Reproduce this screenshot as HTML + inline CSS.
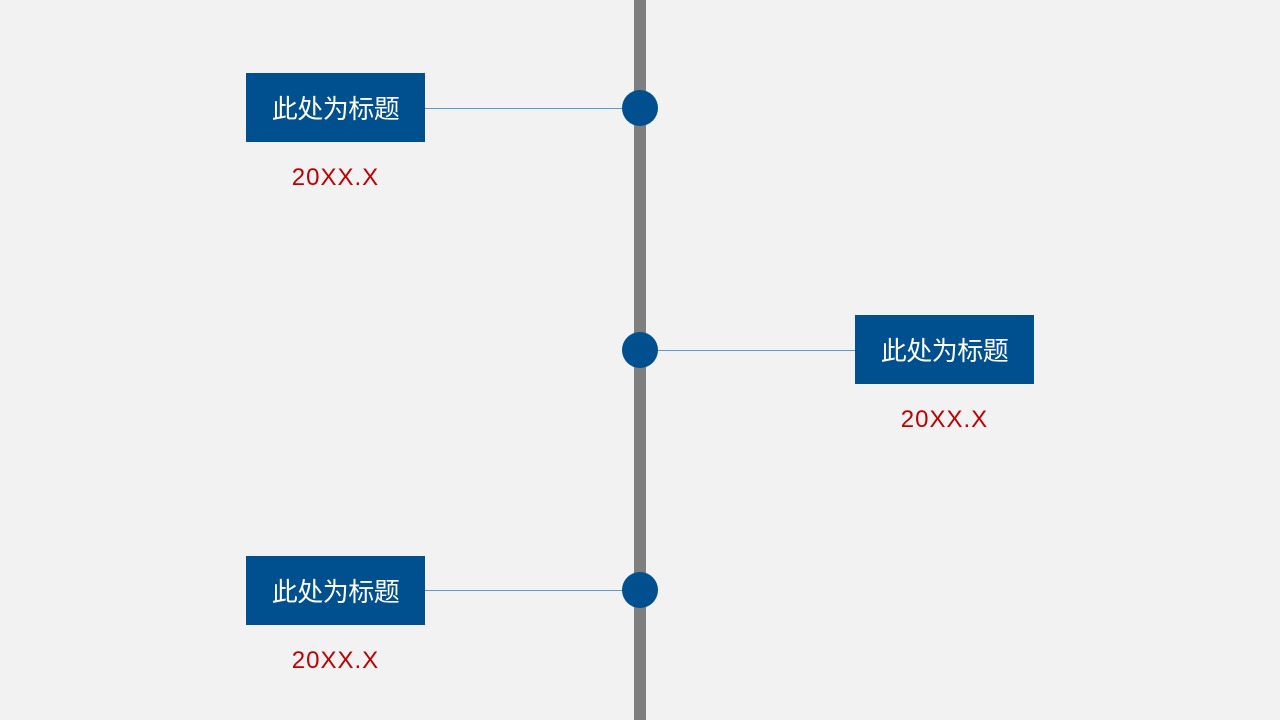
<!DOCTYPE html>
<html><head><meta charset="utf-8"><style>
body{margin:0;width:1280px;height:720px;background:#f2f2f2;position:relative;overflow:hidden;font-family:"Liberation Sans","Noto Sans CJK SC",sans-serif}
.bar{position:absolute;left:634px;top:0;width:12px;height:720px;background:#7f7f7f}
.dot{position:absolute;width:36px;height:36px;border-radius:50%;background:#00508f;left:622px}
.ln{position:absolute;height:1px;background:#5b9bd5}
.box{position:absolute;width:179px;height:69px;background:#00508f;color:#fff;font-size:26px;line-height:73px;text-align:center;letter-spacing:-0.5px}
.dt{position:absolute;width:179px;text-align:center;color:#c00000;font-size:24px;line-height:32px;letter-spacing:1px}
</style></head><body>
<div class="bar"></div>
<div class="ln" style="left:425px;width:200px;top:108px"></div>
<div class="ln" style="left:655px;width:200px;top:350px"></div>
<div class="ln" style="left:425px;width:200px;top:590px"></div>
<div class="dot" style="top:90px"></div>
<div class="dot" style="top:332px"></div>
<div class="dot" style="top:572px"></div>
<div class="box" style="left:246px;top:73px">此处为标题</div>
<div class="dt" style="left:246px;top:162px">20XX.X</div>
<div class="box" style="left:855px;top:315px">此处为标题</div>
<div class="dt" style="left:855px;top:404px">20XX.X</div>
<div class="box" style="left:246px;top:556px">此处为标题</div>
<div class="dt" style="left:246px;top:645px">20XX.X</div>
</body></html>
